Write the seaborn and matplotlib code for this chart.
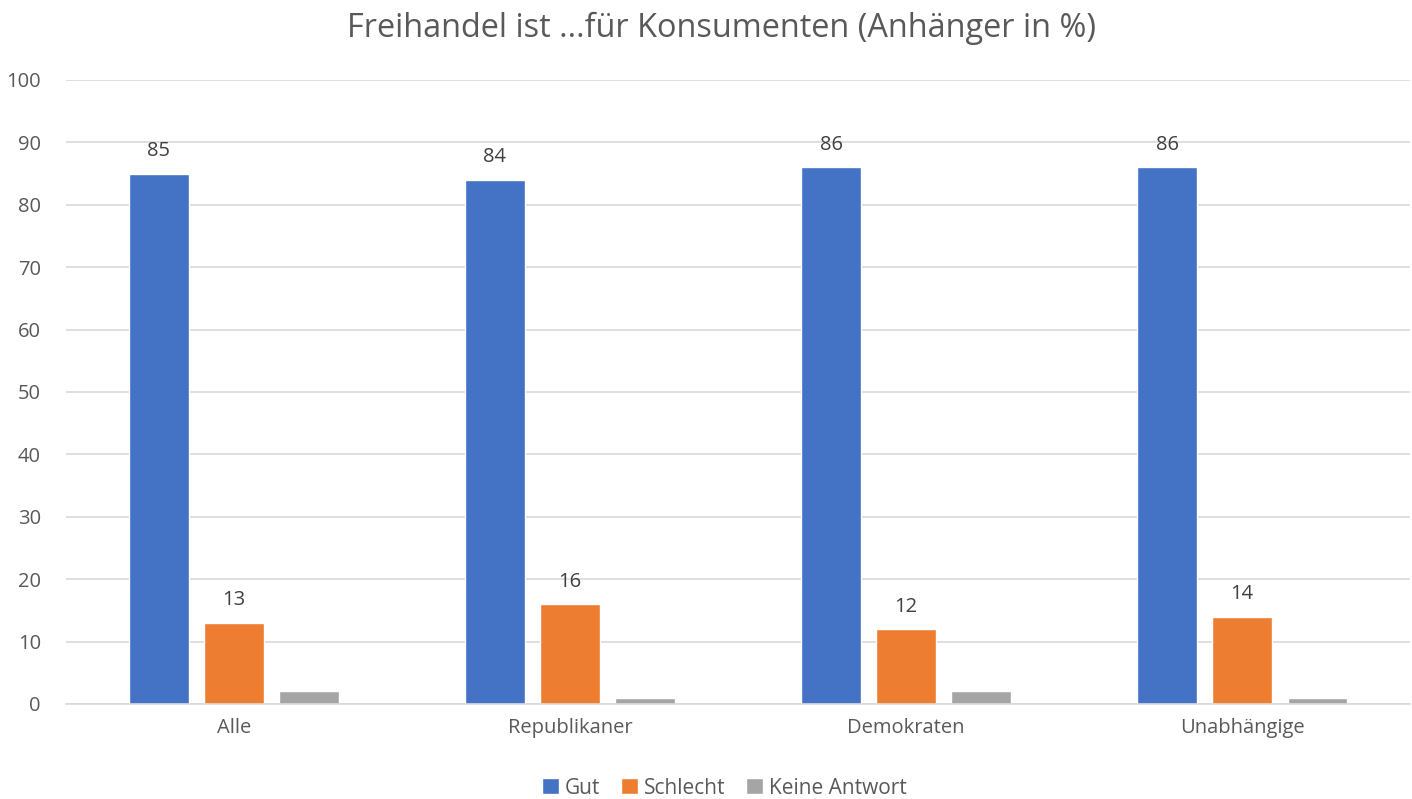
import matplotlib
matplotlib.use('Agg')
import matplotlib.pyplot as plt
import pandas as pd
import seaborn as sns

# ── Data ─────────────────────────────────────────────────────────────────────
groups = ['Alle', 'Republikaner', 'Demokraten', 'Unabhängige']
answers = ['Gut', 'Schlecht', 'Keine Antwort']
gut = [85, 84, 86, 86]
schlecht = [13, 16, 12, 14]
keine_antwort = [2, 1, 2, 1]
colors = ['#4472C4', '#ED7D31', '#A5A5A5']

df = pd.DataFrame({
    'Gruppe': groups * 3,
    'Antwort': [a for a in answers for _ in groups],
    'Wert': gut + schlecht + keine_antwort,
})

sns.set_theme(style='white')
plt.rcParams['font.family'] = ['Open Sans', 'DejaVu Sans']

fig = plt.figure(figsize=(14.12, 7.99), dpi=100)
ax = fig.add_axes([0.0467, 0.119, 0.952, 0.781])

sns.barplot(data=df, x='Gruppe', y='Wert', hue='Antwort', hue_order=answers,
            palette=colors, width=0.67, gap=0.21, saturation=1,
            ax=ax, legend=True)

# data labels only for Gut and Schlecht
for cont in ax.containers[:2]:
    ax.bar_label(cont, padding=9, fontsize=14.5, color='#404040')

ax.set_ylim(0, 100)
ax.set_yticks(range(0, 101, 10))
ax.set_xlim(-0.5, 3.5)
ax.yaxis.grid(True, color='#D9D9D9', linewidth=1.2)
ax.set_axisbelow(True)
for s in ['top', 'right', 'left']:
    ax.spines[s].set_visible(False)
ax.spines['bottom'].set_color('#D9D9D9')
ax.spines['bottom'].set_linewidth(1.2)
ax.tick_params(axis='both', length=0, labelsize=14.5, labelcolor='#595959')
ax.tick_params(axis='y', pad=18)
ax.tick_params(axis='x', pad=10)
ax.set_xlabel('')
ax.set_ylabel('')

fig.suptitle('Freihandel ist ...für Konsumenten (Anhänger in %)',
             x=0.511, y=0.965, va='center', fontsize=23.4, color='#595959')

handles, labels = ax.get_legend_handles_labels()
ax.legend(handles, labels, loc='upper center', bbox_to_anchor=(0.49, -0.088),
          ncol=3, frameon=False, fontsize=15, handlelength=0.8, handleheight=0.8,
          handletextpad=0.3, columnspacing=1.0, labelcolor='#595959')

fig.savefig('out.png', dpi=100)
